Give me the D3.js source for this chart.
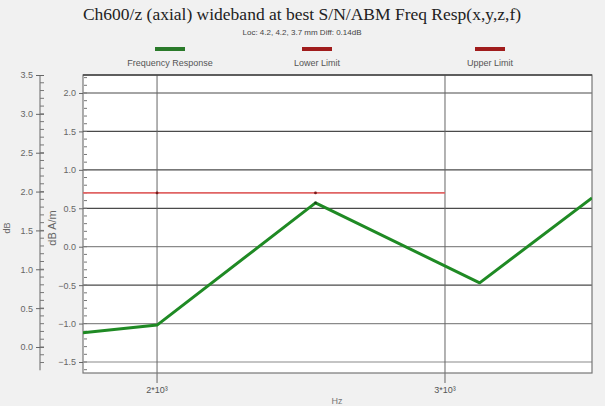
<!DOCTYPE html>
<html><head><meta charset="utf-8">
<script src="https://cdn.jsdelivr.net/npm/d3@7/dist/d3.min.js"></script>
<style>html,body{margin:0;padding:0;background:#f1f1f1;}svg{display:block;}</style>
</head><body>
<script>
// ---- data ----
const titleText = "Ch600/z (axial) wideband at best S/N/ABM Freq Resp(x,y,z,f)";
const subtitleText = "Loc: 4.2, 4.2, 3.7 mm Diff: 0.14dB";
const legendLabels = ["Frequency Response", "Lower Limit", "Upper Limit"];
const freqs = [1802, 2000, 2500, 3150, 3690];          // Hz
const response = [-1.12, -1.02, 0.57, -0.47, 0.635];   // dB A/m
const limitFreqs = [1802, 2000, 2500, 3000];
const limitVals = [0.70, 0.70, 0.70, 0.70];
const xTickVals = [2000, 3000];
const xTickLabels = ["2*10³", "3*10³"];
const rightTicks = [2.0, 1.5, 1.0, 0.5, 0.0, -0.5, -1.0, -1.5];
const leftTicks = [3.5, 3.0, 2.5, 2.0, 1.5, 1.0, 0.5, 0.0];

const W = 605, H = 406;
const svg = d3.select("body").append("svg").attr("width", W).attr("height", H);
svg.append("rect").attr("width", W).attr("height", H).attr("fill", "#f1f1f1");

const pl = 83, pr = 592, pt = 75, pb = 373;
const x = d3.scaleLog().domain([1802, 3690]).range([pl, pr]);
const y = d3.scaleLinear().domain([-1.643, 2.234]).range([pb, pt]);
const yL = d3.scaleLinear().domain([-0.3, 3.5]).range([370.3, 75]);

// title
svg.append("text").attr("x", 302).attr("y", 20).attr("text-anchor", "middle")
  .attr("font-family", "Liberation Serif, Times New Roman, serif").attr("font-size", 17.5)
  .attr("fill", "#222").text(titleText);
svg.append("text").attr("x", 302).attr("y", 35).attr("text-anchor", "middle")
  .attr("font-family", "Liberation Sans, Arial, sans-serif").attr("font-size", 8)
  .attr("fill", "#444").text(subtitleText);

// legend
const legColors = ["#2a7a2a", "#a01c1c", "#a01c1c"];
const legX = [170, 317, 490];
legendLabels.forEach((l, i) => {
  svg.append("rect").attr("x", legX[i] - 15).attr("y", 47).attr("width", 30).attr("height", 4)
    .attr("fill", legColors[i]);
  svg.append("text").attr("x", legX[i]).attr("y", 66).attr("text-anchor", "middle")
    .attr("font-family", "Liberation Sans, Arial, sans-serif").attr("font-size", 9)
    .attr("fill", "#555").text(l);
});

// plot area
svg.append("rect").attr("x", pl).attr("y", pt).attr("width", pr - pl).attr("height", pb - pt)
  .attr("fill", "#fff");

// horizontal grid
const lightSet = new Set([0.0, -1.0, -1.5]);
svg.append("g").selectAll("line").data(rightTicks).join("line")
  .attr("x1", pl).attr("x2", pr).attr("y1", d => y(d)).attr("y2", d => y(d))
  .attr("stroke", d => lightSet.has(d) ? "#8a8a8a" : "#4a4a4a").attr("stroke-width", 1.2);

// vertical grid (extends below plot)
svg.append("g").selectAll("line").data(xTickVals).join("line")
  .attr("x1", d => x(d)).attr("x2", d => x(d)).attr("y1", pt).attr("y2", pb + 10)
  .attr("stroke", "#666").attr("stroke-width", 1);

// border
svg.append("rect").attr("x", pl).attr("y", pt).attr("width", pr - pl).attr("height", pb - pt)
  .attr("fill", "none").attr("stroke", "#777").attr("stroke-width", 1.2);
svg.append("line").attr("x1", pl).attr("x2", pr).attr("y1", pt).attr("y2", pt)
  .attr("stroke", "#444").attr("stroke-width", 1.5);

// x tick labels
svg.append("g").selectAll("text").data(xTickVals).join("text")
  .attr("x", d => x(d)).attr("y", 393).attr("text-anchor", "middle")
  .attr("font-family", "Liberation Sans, Arial, sans-serif").attr("font-size", 9)
  .attr("fill", "#555").text((d, i) => xTickLabels[i]);
svg.append("text").attr("x", 337).attr("y", 404).attr("text-anchor", "middle")
  .attr("font-family", "Liberation Sans, Arial, sans-serif").attr("font-size", 9)
  .attr("fill", "#777").text("Hz");

// right (inner) axis: dB A/m
const gR = svg.append("g").attr("transform", `translate(${pl},0)`);
gR.call(d3.axisLeft(y).tickValues(rightTicks).tickSize(4).tickFormat(d3.format(".1f")));
gR.select(".domain").remove();
gR.selectAll(".tick line").attr("stroke", "#666");
gR.selectAll(".tick text").attr("font-family", "Liberation Sans, Arial, sans-serif")
  .attr("font-size", 9).attr("fill", "#666");
const minorR = d3.range(-16, 23).map(v => v / 10);
gR.append("g").selectAll("line").data(minorR).join("line")
  .attr("x1", 1).attr("x2", 4).attr("y1", d => y(d)).attr("y2", d => y(d))
  .attr("stroke", "#777").attr("stroke-width", 1);

// left axis: dB
const axL = 40;
const gL = svg.append("g").attr("transform", `translate(${axL},0)`);
gL.append("line").attr("x1", 0).attr("x2", 0).attr("y1", yL(3.5)).attr("y2", yL(-0.3))
  .attr("stroke", "#666").attr("stroke-width", 1);
gL.call(g => {
  const a = d3.axisLeft(yL).tickValues(leftTicks).tickSize(4).tickFormat(d3.format(".1f"));
  g.append("g").call(a);
});
gL.selectAll(".domain").remove();
gL.selectAll(".tick line").attr("stroke", "#666").attr("x2", -4).attr("x1", 4);
gL.selectAll(".tick text").attr("font-family", "Liberation Sans, Arial, sans-serif")
  .attr("font-size", 9).attr("fill", "#666");
const minorL = d3.range(-2, 35).map(v => v / 10);
gL.append("g").selectAll("line").data(minorL).join("line")
  .attr("x1", 0).attr("x2", 4).attr("y1", d => yL(d)).attr("y2", d => yL(d))
  .attr("stroke", "#777").attr("stroke-width", 1);

// axis titles
svg.append("text").attr("transform", "translate(10,228) rotate(-90)").attr("text-anchor", "middle")
  .attr("font-family", "Liberation Sans, Arial, sans-serif").attr("font-size", 9)
  .attr("fill", "#666").text("dB");
svg.append("text").attr("transform", "translate(56,228) rotate(-90)").attr("text-anchor", "middle")
  .attr("font-family", "Liberation Sans, Arial, sans-serif").attr("font-size", 11)
  .attr("fill", "#666").text("dB A/m");

// clip
svg.append("clipPath").attr("id", "clip").append("rect")
  .attr("x", pl).attr("y", pt).attr("width", pr - pl).attr("height", pb - pt);

// limit line
const limitData = limitFreqs.map((f, i) => [f, limitVals[i]]);
svg.append("path").datum(limitData).attr("clip-path", "url(#clip)")
  .attr("d", d3.line().x(d => x(d[0])).y(d => y(d[1])))
  .attr("fill", "none").attr("stroke", "#e06464").attr("stroke-width", 1.6);
svg.append("g").selectAll("circle").data(limitData.slice(1, 3)).join("circle")
  .attr("cx", d => x(d[0])).attr("cy", d => y(d[1])).attr("r", 1.4).attr("fill", "#7a1a1a");

// response line
const respData = freqs.map((f, i) => [f, response[i]]);
svg.append("path").datum(respData).attr("clip-path", "url(#clip)")
  .attr("d", d3.line().x(d => x(d[0])).y(d => y(d[1])))
  .attr("fill", "none").attr("stroke", "#1f8a24").attr("stroke-width", 3)
  .attr("stroke-linejoin", "round");
svg.append("circle").attr("cx", x(freqs[2])).attr("cy", y(response[2])).attr("r", 1.3).attr("fill", "#1a3a1a");
</script>
</body></html>
